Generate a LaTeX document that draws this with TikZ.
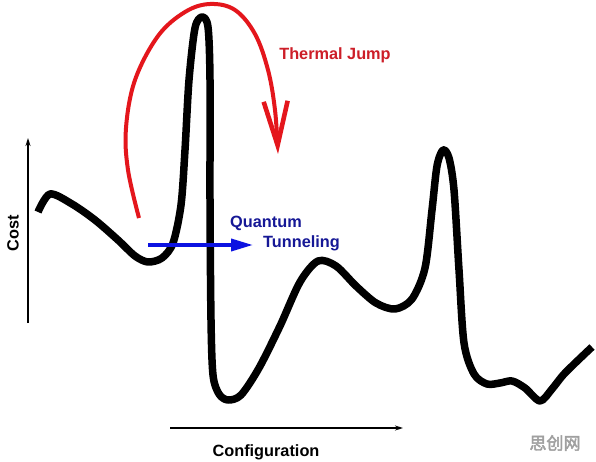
\documentclass[tikz,border=0pt]{standalone}
\usepackage{fontspec}
\setmainfont{Liberation Sans}
\newfontfamily\cjkfont[FakeBold=2.5]{Noto Sans CJK SC}
\usetikzlibrary{
    arrows.meta,
    positioning
}
\definecolor{colorThermal}{RGB}{228, 22, 28}
\definecolor{textThermal}{RGB}{205, 30, 40}
\definecolor{colorQuantum}{RGB}{12, 18, 225}
\definecolor{textQuantum}{RGB}{22, 24, 150}
\definecolor{colorMarca}{RGB}{160, 160, 160}
\tikzset{
    costCurve/.style={
        line width=7.5pt, line join=round, color=black
    },
    thermalArrow/.style={
        -{Straight Barb[length=44pt,width=24pt,line width=4.6pt]},
        line width=4pt, color=colorThermal
    },
    quantumArrow/.style={
        -{Triangle[length=22pt,width=12pt]},
        line width=3.6pt, color=colorQuantum
    },
    axisArrow/.style={
        -{Stealth[length=8pt,width=5pt]},
        line width=1.6pt, color=black
    },
    labelBig/.style={
        font=\fontsize{16.3}{18}\selectfont\bfseries, inner sep=0pt
    },
}
\begin{document}
\begin{tikzpicture}[x=1pt, y=-1pt]

    % ----------------------------------------------------------
    % MARCO — pixeles de la imagen, y hacia abajo
    % ----------------------------------------------------------
    \fill[white] (0,0) rectangle (596,462);
    \useasboundingbox (0,0) rectangle (596,462);

    % ----------------------------------------------------------
    % EJES
    % ----------------------------------------------------------
    \coordinate (costBase) at (28, 323);
    \coordinate (costTop)  at (28, 138);
    \coordinate (confBase) at (170, 428);
    \coordinate (confEnd)  at (403, 428);

    \draw[axisArrow] (costBase) -- (costTop);
    \draw[axisArrow] (confBase) -- (confEnd);

    \node[labelBig, rotate=90] at (13, 233) (costLabel) {Cost};
    \node[labelBig]            at (266, 452) (confLabel) {Configuration};

    % ----------------------------------------------------------
    % PAISAJE DE COSTO
    % ----------------------------------------------------------
    \draw[costCurve] plot[smooth, tension=0.5] coordinates {
        (38,212) (50,194) (72,204) (95,220) (118,240) (135,256)
        (148,262) (162,258) (173,243) (181,205) (185,150) (189,80)
        (195,28) (202,17) (208,27) (210,80) (210,200) (211,320)
        (213,375) (219,394) (228,400) (241,395) (259,368) (280,326)
        (300,282) (318,261) (336,266) (356,286) (376,303) (395,309)
        (412,299) (425,268) (432,210) (437,166) (443,150) (449,158)
        (454,190) (459,270) (464,343) (474,374) (487,384) (500,383)
        (512,381) (525,388) (540,401) (552,389) (565,373) (592,347)
    };

    % ----------------------------------------------------------
    % SALTO TERMICO
    % ----------------------------------------------------------
    \coordinate (thermalStart) at (139, 218);
    \coordinate (thermalEnd)   at (278, 154);

    \draw[thermalArrow] plot[smooth, tension=0.6] coordinates {
        (thermalStart) (128,170) (126,128) (135,80) (158,36) (185,12)
        (210,4) (235,10) (255,34) (268,70) (275,110) (thermalEnd)
    };

    \node[labelBig, text=textThermal] at (335, 55) (thermalLabel) {Thermal Jump};

    % ----------------------------------------------------------
    % TUNELAMIENTO CUANTICO
    % ----------------------------------------------------------
    \coordinate (quantumStart) at (148, 245);
    \coordinate (quantumEnd)   at (253, 245);

    \draw[quantumArrow] (quantumStart) -- (quantumEnd);

    \node[labelBig, text=textQuantum, anchor=west] at (230, 223) (quantumLabel) {Quantum};
    \node[labelBig, text=textQuantum, anchor=west] at (263, 243) (tunnelLabel)  {Tunneling};

    % marca de agua
    \node[font=\cjkfont\fontsize{17}{19}\selectfont, text=colorMarca, inner sep=0pt]
        at (555, 443) (marca) {思创网};

\end{tikzpicture}
\end{document}
